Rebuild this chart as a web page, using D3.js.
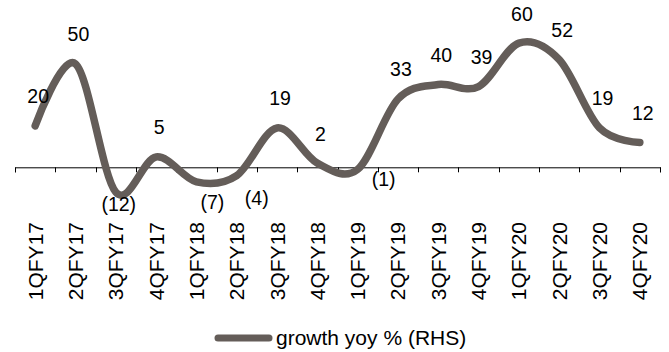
<!DOCTYPE html>
<html>
<head>
<meta charset="utf-8">
<script src="https://cdn.jsdelivr.net/npm/d3@7"></script>
<style>
  html, body { margin: 0; padding: 0; background: #fff; }
  svg { display: block; }
  text { font-family: "Liberation Sans", Arial, sans-serif; fill: #000; }
</style>
</head>
<body>
<script>
// ---- data ----
const categories = ["1QFY17","2QFY17","3QFY17","4QFY17","1QFY18","2QFY18","3QFY18","4QFY18",
                    "1QFY19","2QFY19","3QFY19","4QFY19","1QFY20","2QFY20","3QFY20","4QFY20"];
const growthYoy = [20, 50, -12, 5, -7, -4, 19, 2, -1, 33, 40, 39, 60, 52, 19, 12];
const seriesName = "growth yoy % (RHS)";

// ---- layout (label placement for the hand-moved negative labels) ----
const negLabelNudge = { 2: [3, 12], 4: [16, 20], 5: [20, 22], 8: [26, 10] };

const W = 669, H = 352;
const lineColor = "#645D59";

const svg = d3.select("body").append("svg").attr("width", W).attr("height", H);

const x = d3.scaleBand().domain(categories).range([15, 660]);
const y = d3.scaleLinear().domain([-20, 70]).range([167.3 + 20 * 2.07, 167.3 - 70 * 2.07]);
const cx = c => x(c) + x.bandwidth() / 2;

// x axis
const axis = d3.axisBottom(x).tickSize(5).tickSizeOuter(5).tickFormat("");
const gAxis = svg.append("g").attr("transform", `translate(0,${y(0)})`).call(axis);
gAxis.select(".domain").attr("stroke", "#000").attr("stroke-width", 1)
  .attr("d", `M15.5,5V0.5H660.5V5`);
// ticks at band boundaries
gAxis.selectAll(".tick").remove();
const bounds = categories.map(c => x(c)).concat([x(categories[categories.length - 1]) + x.bandwidth()]);
gAxis.selectAll("line.tk").data(bounds).enter().append("line")
  .attr("x1", d => Math.round(d) + 0.5).attr("x2", d => Math.round(d) + 0.5)
  .attr("y1", 0).attr("y2", 5).attr("stroke", "#000").attr("stroke-width", 1);

// rotated category labels
svg.append("g").selectAll("text").data(categories).enter().append("text")
  .attr("transform", d => `translate(${cx(d) + 7.5},222) rotate(-90)`)
  .attr("text-anchor", "end")
  .style("font-size", "21px")
  .text(d => d);

// line
const pts = categories.map((c, i) => [cx(c), y(growthYoy[i])]);
svg.append("path")
  .attr("d", d3.line().curve(d3.curveCatmullRom.alpha(0))(pts))
  .attr("fill", "none").attr("stroke", lineColor).attr("stroke-width", 7.5)
  .attr("stroke-linecap", "round").attr("stroke-linejoin", "round");

// data labels
const fmt = v => v < 0 ? `(${Math.abs(v)})` : `${v}`;
svg.append("g").selectAll("text").data(growthYoy).enter().append("text")
  .attr("text-anchor", "middle")
  .style("font-size", "19.5px")
  .attr("x", (v, i) => pts[i][0] + (v < 0 ? negLabelNudge[i][0] : 3))
  .attr("y", (v, i) => pts[i][1] + (v < 0 ? negLabelNudge[i][1] : -29.5) + 7)
  .text(fmt);

// legend
const lg = svg.append("g");
lg.append("line").attr("x1", 218).attr("x2", 269).attr("y1", 338).attr("y2", 338)
  .attr("stroke", lineColor).attr("stroke-width", 7).attr("stroke-linecap", "round");
lg.append("text").attr("x", 276).attr("y", 345).style("font-size", "21px").text(seriesName);
</script>
</body>
</html>
